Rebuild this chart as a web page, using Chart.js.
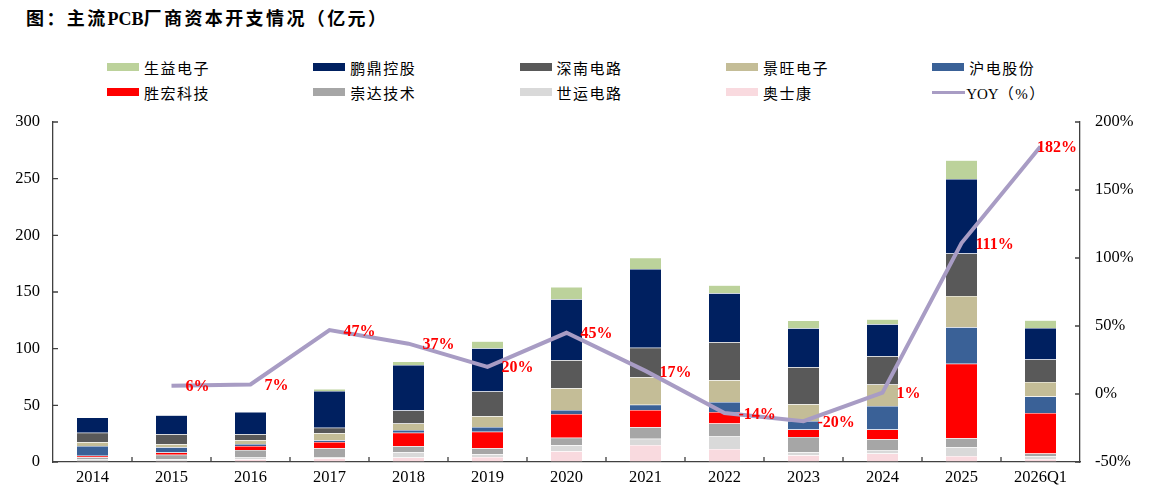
<!DOCTYPE html>
<html>
<head>
<meta charset="utf-8">
<script src="https://cdn.jsdelivr.net/npm/chart.js@4.4.1/dist/chart.umd.min.js"></script>
<style>
  body { margin: 0; background: #fff; overflow: hidden; }
  #wrap { position: relative; width: 1151px; height: 492px; }
  #title {
    position: absolute; left: 26px; top: 4px;
    font: bold 18px "Liberation Serif", "Noto Sans CJK SC", serif;
    letter-spacing: 2.4px; color: #000; white-space: nowrap;
  }
  #title b { letter-spacing: 0; }
  .item {
    position: absolute; height: 20px; line-height: 20px;
    font: 15px "Liberation Serif", "Noto Sans CJK SC", serif;
    letter-spacing: 1.5px; color: #000; white-space: nowrap;
  }
  .item i { position: absolute; left: 0; display: block; }
  .item span { position: absolute; left: 37px; top: 0; }
  #chartBox { position: absolute; left: 0; top: 0; width: 1151px; height: 492px; }
</style>
</head>
<body>
<div id="wrap">
  <div id="title">图：主流<b>PCB</b>厂商资本开支情况（亿元）</div>
  <div id="legend"></div>
  <div id="chartBox"><canvas id="myChart"></canvas></div>
</div>
<script>
// categories
const years = ['2014', '2015', '2016', '2017', '2018', '2019', '2020', '2021', '2022', '2023', '2024', '2025', '2026Q1'];

// capex by company (亿元)
const shengyi  = [0, 0, 0, 1.8, 3.0, 6.2, 10.8, 10.0, 7.1, 6.8, 4.4, 16.5, 6.8];          // 生益电子
const pengding = [13.3, 16.8, 19.7, 32.3, 40.2, 38.2, 53.9, 69.4, 43.2, 34.4, 28.2, 65.8, 27.8]; // 鹏鼎控股
const shennan  = [8.5, 8.8, 5.3, 5.0, 11.5, 21.8, 24.7, 26.2, 33.5, 32.7, 25.0, 37.4, 19.8];     // 深南电路
const jingwang = [3.3, 2.6, 3.2, 6.2, 5.7, 9.4, 19.1, 24.1, 19.2, 14.7, 18.9, 27.6, 12.9];       // 景旺电子
const hudian   = [8.5, 4.7, 1.8, 1.5, 2.3, 4.1, 3.5, 4.7, 8.8, 7.6, 20.8, 32.1, 14.5];           // 沪电股份
const shenghong = [1.5, 1.8, 3.5, 5.5, 12.0, 14.7, 20.9, 15.3, 10.2, 6.5, 8.6, 65.9, 35.8];      // 胜宏科技
const chongda  = [2.0, 4.1, 6.7, 7.7, 5.3, 5.3, 6.8, 10.0, 11.5, 13.5, 9.9, 7.9, 2.4];           // 崇达技术
const shiyun   = [1.2, 1.2, 1.5, 1.1, 4.7, 2.4, 5.3, 5.6, 10.9, 2.7, 2.7, 7.7, 2.4];             // 世运电路
const aoshikang = [0.9, 1.2, 2.4, 3.3, 3.9, 4.4, 9.4, 15.0, 11.5, 5.9, 7.4, 5.3, 2.6];           // 奥士康

// YOY (%)
const yoy = [null, 6, 7, 47, 37, 20, 45, 17, -14, -20, 1, 111, 182];

// axis ticks
const leftTicks = [0, 50, 100, 150, 200, 250, 300];
const rightTicks = [-50, 0, 50, 100, 150, 200];

// legend order (as in the picture), bars stack bottom-up in reverse
const barSeries = [
    { name: '生益电子', data: shengyi, color: '#bcd29b' },
    { name: '鹏鼎控股', data: pengding, color: '#002060' },
    { name: '深南电路', data: shennan, color: '#595959' },
    { name: '景旺电子', data: jingwang, color: '#c4bd97' },
    { name: '沪电股份', data: hudian, color: '#3a6197' },
    { name: '胜宏科技', data: shenghong, color: '#ff0000' },
    { name: '崇达技术', data: chongda, color: '#a6a6a6' },
    { name: '世运电路', data: shiyun, color: '#d9d9d9' },
    { name: '奥士康', data: aoshikang, color: '#f9dadf' }
];
const lineColor = '#a89cc4';

const serif = '"Liberation Serif", "Times New Roman", serif';

// html legend in a 5 column grid
const legendEl = document.getElementById('legend');
const legendItems = barSeries.map(s => ({ name: s.name, color: s.color, line: false }));
legendItems.push({ name: 'YOY（%）', color: lineColor, line: true });
legendItems.forEach((it, i) => {
    const col = i % 5, row = Math.floor(i / 5);
    const div = document.createElement('div');
    div.className = 'item';
    div.style.left = (107 + col * 206.3) + 'px';
    div.style.top = (57 + row * 25) + 'px';
    const mark = document.createElement('i');
    const txt = document.createElement('span');
    if (it.line) {
        mark.style.cssText = 'top:9px;width:33px;height:3px;background:' + it.color;
        txt.style.left = '34px';
        txt.innerHTML = '<span style="position:static;letter-spacing:0">YOY</span>（%）';
    } else {
        mark.style.cssText = 'top:6px;width:32px;height:8px;background:' + it.color;
        txt.textContent = it.name;
    }
    div.appendChild(mark);
    div.appendChild(txt);
    legendEl.appendChild(div);
});

// inward tick marks on all three axes
const innerTicks = {
    id: 'innerTicks',
    afterDraw(chart) {
        const { ctx, chartArea, scales } = chart;
        ctx.save();
        ctx.strokeStyle = '#404040';
        ctx.lineWidth = 1.3;
        ctx.beginPath();
        leftTicks.forEach(v => {
            const y = scales.y.getPixelForValue(v);
            ctx.moveTo(chartArea.left, y);
            ctx.lineTo(chartArea.left + 5, y);
        });
        rightTicks.forEach(v => {
            const y = scales.y1.getPixelForValue(v);
            ctx.moveTo(chartArea.right, y);
            ctx.lineTo(chartArea.right - 5, y);
        });
        for (let i = 1; i < years.length; i++) {
            const x = scales.x.getPixelForValue(i - 0.5);
            ctx.moveTo(x, chartArea.bottom);
            ctx.lineTo(x, chartArea.bottom - 5);
        }
        ctx.stroke();
        ctx.restore();
    }
};

// red YOY value labels beside each point
const yoyLabels = {
    id: 'yoyLabels',
    afterDraw(chart) {
        const { ctx, chartArea } = chart;
        const meta = chart.getDatasetMeta(0);
        ctx.save();
        ctx.font = 'bold 16px ' + serif;
        ctx.fillStyle = '#ff0000';
        ctx.textBaseline = 'middle';
        ctx.textAlign = 'left';
        meta.data.forEach((pt, i) => {
            if (yoy[i] === null) return;
            const text = yoy[i] + '%';
            const w = ctx.measureText(text).width;
            let x = pt.x + 14;
            if (x + w > chartArea.right - 2) x = chartArea.right - w - 3;
            ctx.fillText(text, x, pt.y + 1.5);
        });
        ctx.restore();
    }
};

const datasets = [{
    type: 'line',
    label: 'YOY（%）',
    data: yoy,
    yAxisID: 'y1',
    borderColor: lineColor,
    borderWidth: 4,
    pointRadius: 0,
    tension: 0,
    fill: false
}];
barSeries.slice().reverse().forEach(s => {
    datasets.push({
        type: 'bar',
        label: s.name,
        data: s.data,
        yAxisID: 'y',
        backgroundColor: s.color,
        borderColor: 'rgba(255,255,255,0.7)',
        borderWidth: 0.5,
        categoryPercentage: 1,
        barPercentage: 0.405
    });
});

new Chart(document.getElementById('myChart'), {
    data: { labels: years, datasets: datasets },
    options: {
        responsive: true,
        maintainAspectRatio: false,
        animation: false,
        layout: { padding: { top: 122, left: 0, right: 0, bottom: 0 } },
        plugins: {
            legend: { display: false },
            tooltip: { enabled: false },
            title: { display: false }
        },
        scales: {
            x: {
                stacked: true,
                grid: { display: true, drawOnChartArea: false, drawTicks: false },
                border: { display: true, color: '#404040', width: 1.3 },
                ticks: { color: '#000', font: { family: serif, size: 16.5 }, padding: 6, maxRotation: 0 },
                afterFit(scale) { scale.height = 30; }
            },
            y: {
                stacked: true,
                position: 'left',
                min: 0,
                max: 300,
                afterBuildTicks(scale) { scale.ticks = leftTicks.map(v => ({ value: v })); },
                grid: { display: true, drawOnChartArea: false, drawTicks: false },
                border: { display: true, color: '#404040', width: 1.3 },
                ticks: { color: '#000', font: { family: serif, size: 16.5 }, padding: 13 },
                afterFit(scale) { scale.width = 53; }
            },
            y1: {
                stacked: false,
                position: 'right',
                min: -50,
                max: 200,
                afterBuildTicks(scale) { scale.ticks = rightTicks.map(v => ({ value: v })); },
                grid: { display: true, drawOnChartArea: false, drawTicks: false },
                border: { display: true, color: '#404040', width: 1.3 },
                ticks: {
                    color: '#000', font: { family: serif, size: 16.5 }, padding: 15,
                    callback: v => v + '%'
                },
                afterFit(scale) { scale.width = 71; }
            }
        }
    },
    plugins: [innerTicks, yoyLabels]
});
</script>
</body>
</html>
